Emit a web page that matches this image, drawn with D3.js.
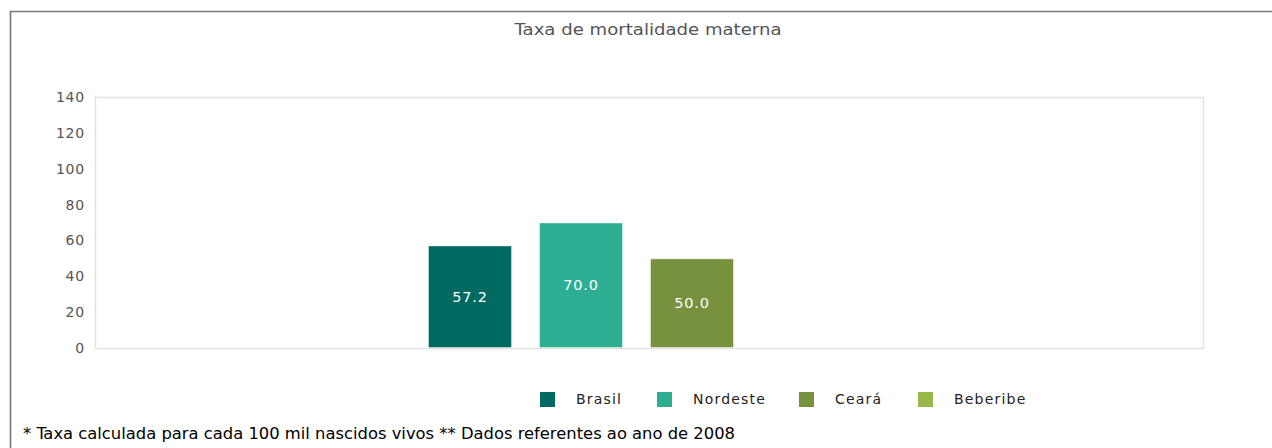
<!DOCTYPE html>
<html lang="pt">
<head>
<meta charset="UTF-8">
<title>Taxa de mortalidade materna</title>
<style>
  body { margin: 0; background: #fff; font-family: "DejaVu Sans", sans-serif; }
  svg text { font-family: "DejaVu Sans", sans-serif; }
</style>
</head>
<body>
<script src="https://d3js.org/d3.v7.min.js"></script>
<script>
const title = "Taxa de mortalidade materna";
const series = ["Brasil", "Nordeste", "Ceará", "Beberibe"];
const values = [57.2, 70.0, 50.0, null];
const colors = ["#006961", "#2bae91", "#78913e", "#98b94a"];
const yTicks = [0, 20, 40, 60, 80, 100, 120, 140];
const footnote = "* Taxa calculada para cada 100 mil nascidos vivos ** Dados referentes ao ano de 2008";

const width = 1272, height = 448;
const plot = { left: 95, right: 1203, top: 97, bottom: 348 };

const svg = d3.select("body").append("svg")
    .attr("width", width)
    .attr("height", height);

// outer frame (left + top only)
svg.append("path")
    .attr("d", `M10.5,${height} V11.5 H${width}`)
    .attr("fill", "none")
    .attr("stroke", "#777")
    .attr("stroke-width", 1.6);

svg.append("text")
    .attr("x", 648)
    .attr("y", 35)
    .attr("text-anchor", "middle")
    .attr("font-size", 16)
    .attr("fill", "#555")
    .attr("textLength", 267)
    .attr("lengthAdjust", "spacingAndGlyphs")
    .text(title);

const y = d3.scaleLinear().domain([0, 140]).range([plot.bottom, plot.top]);
const x = d3.scaleBand().domain(series).range([428, 845]).paddingInner(0.243).paddingOuter(0);

// plot border
svg.append("rect")
    .attr("x", plot.left + 0.5)
    .attr("y", plot.top + 0.5)
    .attr("width", plot.right - plot.left)
    .attr("height", plot.bottom - plot.top)
    .attr("fill", "none")
    .attr("stroke", "#e2e2e2")
    .attr("stroke-width", 1.5);

const yAxis = svg.append("g")
    .attr("transform", `translate(${plot.left},0)`)
    .call(d3.axisLeft(y).tickValues(yTicks).tickSize(0).tickPadding(10));
yAxis.select(".domain").remove();
yAxis.selectAll("text")
    .attr("font-size", 14)
    .attr("letter-spacing", 0.8)
    .attr("fill", "#555")
    .style("font-family", "DejaVu Sans");

const bars = series.map((s, i) => ({ s, v: values[i], c: colors[i] })).filter(d => d.v != null);

svg.selectAll("rect.bar")
    .data(bars)
    .enter().append("rect")
    .attr("class", "bar")
    .attr("x", d => x(d.s) + 0.5)
    .attr("y", d => y(d.v) + 0.5)
    .attr("width", x.bandwidth() - 1)
    .attr("height", d => y(0) - y(d.v) - 1)
    .attr("fill", d => d.c)
    .attr("stroke", "rgba(255,255,255,0.45)")
    .attr("stroke-width", 1);

svg.selectAll("text.val")
    .data(bars)
    .enter().append("text")
    .attr("class", "val")
    .attr("x", d => x(d.s) + x.bandwidth() / 2)
    .attr("y", d => (y(d.v) + y(0)) / 2)
    .attr("dy", "0.35em")
    .attr("text-anchor", "middle")
    .attr("font-size", 14.5)
    .attr("letter-spacing", 0.8)
    .attr("fill", "#fff")
    .text(d => d.v.toFixed(1));

// legend
const legendX = [540, 657, 799, 918];
const lg = svg.selectAll("g.leg")
    .data(series)
    .enter().append("g")
    .attr("class", "leg")
    .attr("transform", (d, i) => `translate(${legendX[i]},392)`);
lg.append("rect")
    .attr("width", 15).attr("height", 15)
    .attr("fill", (d, i) => colors[i]);
lg.append("text")
    .attr("x", 36)
    .attr("y", 7.5)
    .attr("dy", "0.35em")
    .attr("font-size", 14)
    .attr("letter-spacing", 1.2)
    .attr("fill", "#222")
    .text(d => d);

svg.append("text")
    .attr("x", 23)
    .attr("y", 439)
    .attr("font-size", 15)
    .attr("fill", "#000")
    .attr("textLength", 712)
    .attr("lengthAdjust", "spacingAndGlyphs")
    .style("font-family", "DejaVu Sans Condensed, DejaVu Sans")
    .text(footnote);
</script>
</body>
</html>
